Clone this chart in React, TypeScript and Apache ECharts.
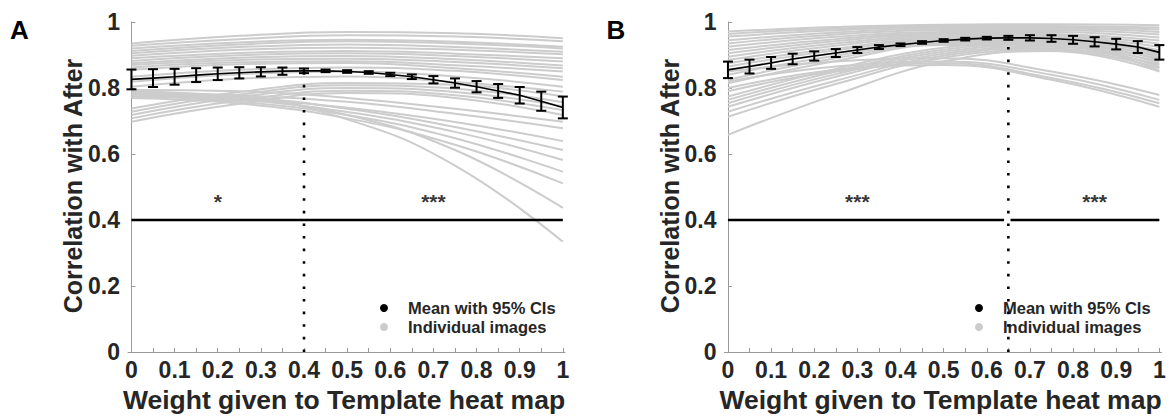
import React, { useEffect, useRef } from "react";
import * as echarts from "echarts";

// ---------- data ----------
const WEIGHTS = [0, 0.05, 0.1, 0.15, 0.2, 0.25, 0.3, 0.35, 0.4, 0.45, 0.5, 0.55, 0.6, 0.65, 0.7, 0.75, 0.8, 0.85, 0.9, 0.95, 1];

const A_MEAN = [0.826, 0.830, 0.834, 0.839, 0.843, 0.846, 0.849, 0.851, 0.852, 0.852, 0.850, 0.847, 0.841, 0.834, 0.825, 0.815, 0.804, 0.791, 0.778, 0.760, 0.741];
const A_HALF_CI = [0.030, 0.027, 0.024, 0.021, 0.019, 0.017, 0.014, 0.011, 0.007, 0.004, 0.004, 0.004, 0.005, 0.007, 0.011, 0.014, 0.017, 0.021, 0.025, 0.029, 0.033];

const B_MEAN = [0.855, 0.865, 0.876, 0.888, 0.897, 0.906, 0.915, 0.924, 0.931, 0.938, 0.944, 0.948, 0.951, 0.952, 0.952, 0.950, 0.946, 0.940, 0.933, 0.924, 0.908];
const B_HALF_CI = [0.025, 0.021, 0.018, 0.016, 0.014, 0.012, 0.009, 0.006, 0.004, 0.004, 0.004, 0.004, 0.004, 0.006, 0.008, 0.010, 0.012, 0.014, 0.016, 0.018, 0.022];

// individual images: values at these weights
const CURVE_X = [0, 0.25, 0.5, 0.75, 1];

const A_CURVES = [
  [0.935, 0.958, 0.970, 0.966, 0.951],
  [0.928, 0.948, 0.960, 0.956, 0.942],
  [0.920, 0.938, 0.946, 0.940, 0.925],
  [0.912, 0.932, 0.942, 0.935, 0.920],
  [0.905, 0.924, 0.932, 0.924, 0.910],
  [0.898, 0.916, 0.922, 0.916, 0.902],
  [0.890, 0.906, 0.912, 0.904, 0.890],
  [0.882, 0.899, 0.905, 0.897, 0.880],
  [0.875, 0.892, 0.897, 0.887, 0.868],
  [0.870, 0.885, 0.889, 0.879, 0.860],
  [0.862, 0.878, 0.881, 0.869, 0.850],
  [0.855, 0.872, 0.876, 0.860, 0.834],
  [0.834, 0.855, 0.862, 0.852, 0.824],
  [0.819, 0.842, 0.850, 0.835, 0.804],
  [0.804, 0.828, 0.835, 0.818, 0.789],
  [0.738, 0.788, 0.815, 0.810, 0.774],
  [0.728, 0.780, 0.808, 0.798, 0.757],
  [0.718, 0.772, 0.800, 0.788, 0.745],
  [0.708, 0.762, 0.792, 0.778, 0.733],
  [0.698, 0.752, 0.785, 0.770, 0.718],
  [0.794, 0.790, 0.770, 0.737, 0.698],
  [0.784, 0.778, 0.758, 0.722, 0.678],
  [0.774, 0.766, 0.740, 0.697, 0.639],
  [0.790, 0.774, 0.737, 0.682, 0.612],
  [0.780, 0.764, 0.727, 0.667, 0.582],
  [0.775, 0.758, 0.718, 0.648, 0.546],
  [0.770, 0.753, 0.708, 0.628, 0.511],
  [0.785, 0.768, 0.718, 0.612, 0.437],
  [0.780, 0.770, 0.705, 0.565, 0.334],
];

const B_CURVES = [
  [0.971, 0.985, 0.992, 0.993, 0.990],
  [0.964, 0.980, 0.988, 0.988, 0.983],
  [0.956, 0.975, 0.985, 0.985, 0.977],
  [0.945, 0.968, 0.980, 0.980, 0.970],
  [0.935, 0.962, 0.976, 0.976, 0.962],
  [0.925, 0.955, 0.970, 0.970, 0.953],
  [0.915, 0.948, 0.966, 0.964, 0.944],
  [0.905, 0.942, 0.962, 0.960, 0.934],
  [0.895, 0.935, 0.958, 0.956, 0.924],
  [0.885, 0.928, 0.954, 0.952, 0.914],
  [0.875, 0.920, 0.950, 0.948, 0.904],
  [0.865, 0.914, 0.946, 0.944, 0.894],
  [0.855, 0.906, 0.942, 0.940, 0.884],
  [0.840, 0.898, 0.938, 0.936, 0.874],
  [0.825, 0.890, 0.934, 0.932, 0.864],
  [0.814, 0.882, 0.930, 0.930, 0.852],
  [0.774, 0.858, 0.922, 0.940, 0.910],
  [0.764, 0.850, 0.916, 0.935, 0.900],
  [0.754, 0.842, 0.910, 0.930, 0.890],
  [0.743, 0.834, 0.904, 0.925, 0.880],
  [0.728, 0.822, 0.898, 0.920, 0.870],
  [0.713, 0.812, 0.892, 0.915, 0.860],
  [0.658, 0.780, 0.880, 0.912, 0.850],
  [0.850, 0.880, 0.890, 0.850, 0.779],
  [0.820, 0.865, 0.880, 0.840, 0.764],
  [0.800, 0.855, 0.875, 0.830, 0.754],
  [0.790, 0.850, 0.870, 0.825, 0.743],
];

const A_OPTIMUM = 0.4;
const B_OPTIMUM = 0.65;
const SIG_LEVEL = 0.4;
const A_SIG_SEGMENTS = [[0, 1]];
const B_SIG_SEGMENTS = [[0, 0.64], [0.655, 1]];
const STAR_Y = 0.455;
const A_STARS = [[0.2, "*"], [0.7, "***"]];
const B_STARS = [[0.3, "***"], [0.85, "***"]];

const X_TICKS = [0, 0.05, 0.1, 0.15, 0.2, 0.25, 0.3, 0.35, 0.4, 0.45, 0.5, 0.55, 0.6, 0.65, 0.7, 0.75, 0.8, 0.85, 0.9, 0.95, 1];
const X_LABELS = [0, 0.1, 0.2, 0.3, 0.4, 0.5, 0.6, 0.7, 0.8, 0.9, 1];
const Y_LABELS = [0, 0.2, 0.4, 0.6, 0.8, 1];

const X_TITLE = "Weight given to Template heat map";
const Y_TITLE = "Correlation with After";
const LEGEND_MEAN = "Mean with 95% CIs";
const LEGEND_INDIV = "Individual images";

// ---------- styling ----------
const FONT = "'Liberation Sans', Arial, Helvetica, sans-serif";
const GREY = "#cccccc";
const AXIS_GREY = "#9a9a9a";
const TEXT = "#262626";

function buildPanel(idx: number, curves: number[][], mean: number[], half: number[], optimum: number, segs: number[][], stars: any[]) {
  const s: any[] = [];
  const ax = { xAxisIndex: idx, yAxisIndex: idx };
  curves.forEach((c) => {
    s.push({
      type: "line", ...ax, silent: true, z: 1,
      data: CURVE_X.map((x, i) => [x, c[i]]),
      smooth: 0.45, symbol: "none",
      lineStyle: { color: GREY, width: 2 },
    });
  });
  segs.forEach((seg) => {
    s.push({
      type: "line", ...ax, silent: true, z: 2,
      data: [[seg[0], SIG_LEVEL], [seg[1], SIG_LEVEL]],
      symbol: "none",
      lineStyle: { color: "#000", width: 2.5, cap: "butt" },
    });
  });
  const optIdx = WEIGHTS.indexOf(optimum);
  s.push({
    type: "line", ...ax, silent: true, z: 3,
    data: [[optimum, 0], [optimum, mean[optIdx]]],
    symbol: "none",
    lineStyle: { color: "#000", width: 2.6, type: [2.6, 10], cap: "butt" },
  });
  s.push({
    type: "line", ...ax, silent: true, z: 4,
    data: WEIGHTS.map((w, i) => [w, mean[i]]),
    symbol: "none",
    lineStyle: { color: "#000", width: 1.6 },
  });
  s.push({
    type: "custom", ...ax, silent: true, z: 5,
    data: WEIGHTS.map((w, i) => [w, mean[i], mean[i] - half[i], mean[i] + half[i]]),
    encode: { x: 0, y: [2, 3] },
    renderItem: (params: any, api: any) => {
      const x = api.value(0);
      const lo = api.coord([x, api.value(2)]);
      const hi = api.coord([x, api.value(3)]);
      const w = 5;
      const st = { stroke: "#000", lineWidth: 2 };
      return {
        type: "group",
        children: [
          { type: "line", shape: { x1: lo[0], y1: lo[1], x2: hi[0], y2: hi[1] }, style: st },
          { type: "line", shape: { x1: lo[0] - w, y1: lo[1], x2: lo[0] + w, y2: lo[1] }, style: st },
          { type: "line", shape: { x1: hi[0] - w, y1: hi[1], x2: hi[0] + w, y2: hi[1] }, style: st },
        ],
      };
    },
  });
  s.push({
    type: "scatter", ...ax, silent: true, z: 6,
    symbolSize: 1,
    itemStyle: { color: "rgba(0,0,0,0)" },
    data: stars.map((st) => ({ value: [st[0], STAR_Y], name: st[1] })),
    label: {
      show: true, position: "inside", formatter: (p: any) => p.name,
      color: "#000", fontSize: 21, fontWeight: "bold", fontFamily: FONT,
    },
  });
  return s;
}

function xAxis(idx: number) {
  return {
    type: "value", gridIndex: idx, min: -0.008, max: 1.005,
    axisLine: { show: true, lineStyle: { color: AXIS_GREY, width: 1 } },
    axisTick: { show: true, inside: true, length: 4, customValues: X_TICKS, lineStyle: { color: AXIS_GREY } },
    axisLabel: {
      customValues: X_LABELS, formatter: (v: number) => String(v),
      fontSize: 23, fontWeight: "bold", color: TEXT, fontFamily: FONT, margin: 6,
    },
    splitLine: { show: false },
  };
}
function yAxis(idx: number) {
  return {
    type: "value", gridIndex: idx, min: 0, max: 1,
    axisLine: { show: true, lineStyle: { color: AXIS_GREY, width: 1 } },
    axisTick: { show: true, inside: true, length: 4, customValues: Y_LABELS, lineStyle: { color: AXIS_GREY } },
    axisLabel: {
      customValues: Y_LABELS, formatter: (v: number) => String(v),
      fontSize: 23, fontWeight: "bold", color: TEXT, fontFamily: FONT, margin: 8,
    },
    splitLine: { show: false },
  };
}

function panelGraphics(left: number, letter: string, legendX: number) {
  return [
    { type: "text", x: left - 118, y: 30, style: { text: letter, font: `bold 26px ${FONT}`, fill: "#000", align: "left", verticalAlign: "middle" } },
    { type: "text", x: left - 55, y: 186, rotation: Math.PI / 2, style: { text: Y_TITLE, font: `bold 25px ${FONT}`, fill: TEXT, align: "center", verticalAlign: "middle" } },
    { type: "text", x: left + 216, y: 400, style: { text: X_TITLE, font: `bold 26.5px ${FONT}`, fill: TEXT, align: "center", verticalAlign: "middle" } },
    { type: "circle", shape: { cx: legendX, cy: 308, r: 4 }, style: { fill: "#000" } },
    { type: "circle", shape: { cx: legendX, cy: 327, r: 4 }, style: { fill: GREY } },
    { type: "text", x: legendX + 24, y: 308, style: { text: LEGEND_MEAN, font: `bold 16.5px ${FONT}`, fill: TEXT, verticalAlign: "middle" } },
    { type: "text", x: legendX + 24, y: 327, style: { text: LEGEND_INDIV, font: `bold 16.5px ${FONT}`, fill: TEXT, verticalAlign: "middle" } },
  ];
}

export default function App() {
  const ref = useRef<HTMLDivElement>(null);
  useEffect(() => {
    if (!ref.current) return;
    const chart = echarts.init(ref.current, null, { renderer: "svg" });
    const gridA = { left: 128, top: 22, width: 437, height: 330 };
    const gridB = { left: 724.5, top: 22, width: 437, height: 330 };
    chart.setOption({
      animation: false,
      backgroundColor: "#fff",
      grid: [gridA, gridB],
      xAxis: [xAxis(0), xAxis(1)],
      yAxis: [yAxis(0), yAxis(1)],
      series: [
        ...buildPanel(0, A_CURVES, A_MEAN, A_HALF_CI, A_OPTIMUM, A_SIG_SEGMENTS, A_STARS),
        ...buildPanel(1, B_CURVES, B_MEAN, B_HALF_CI, B_OPTIMUM, B_SIG_SEGMENTS, B_STARS),
      ],
      graphic: [...panelGraphics(128, "A", 384), ...panelGraphics(724.5, "B", 979)],
    });
    return () => chart.dispose();
  }, []);
  return (
    <div
      ref={ref}
      style={{ position: "fixed", left: 0, top: 0, width: 1175, height: 420, background: "#fff" }}
    />
  );
}
